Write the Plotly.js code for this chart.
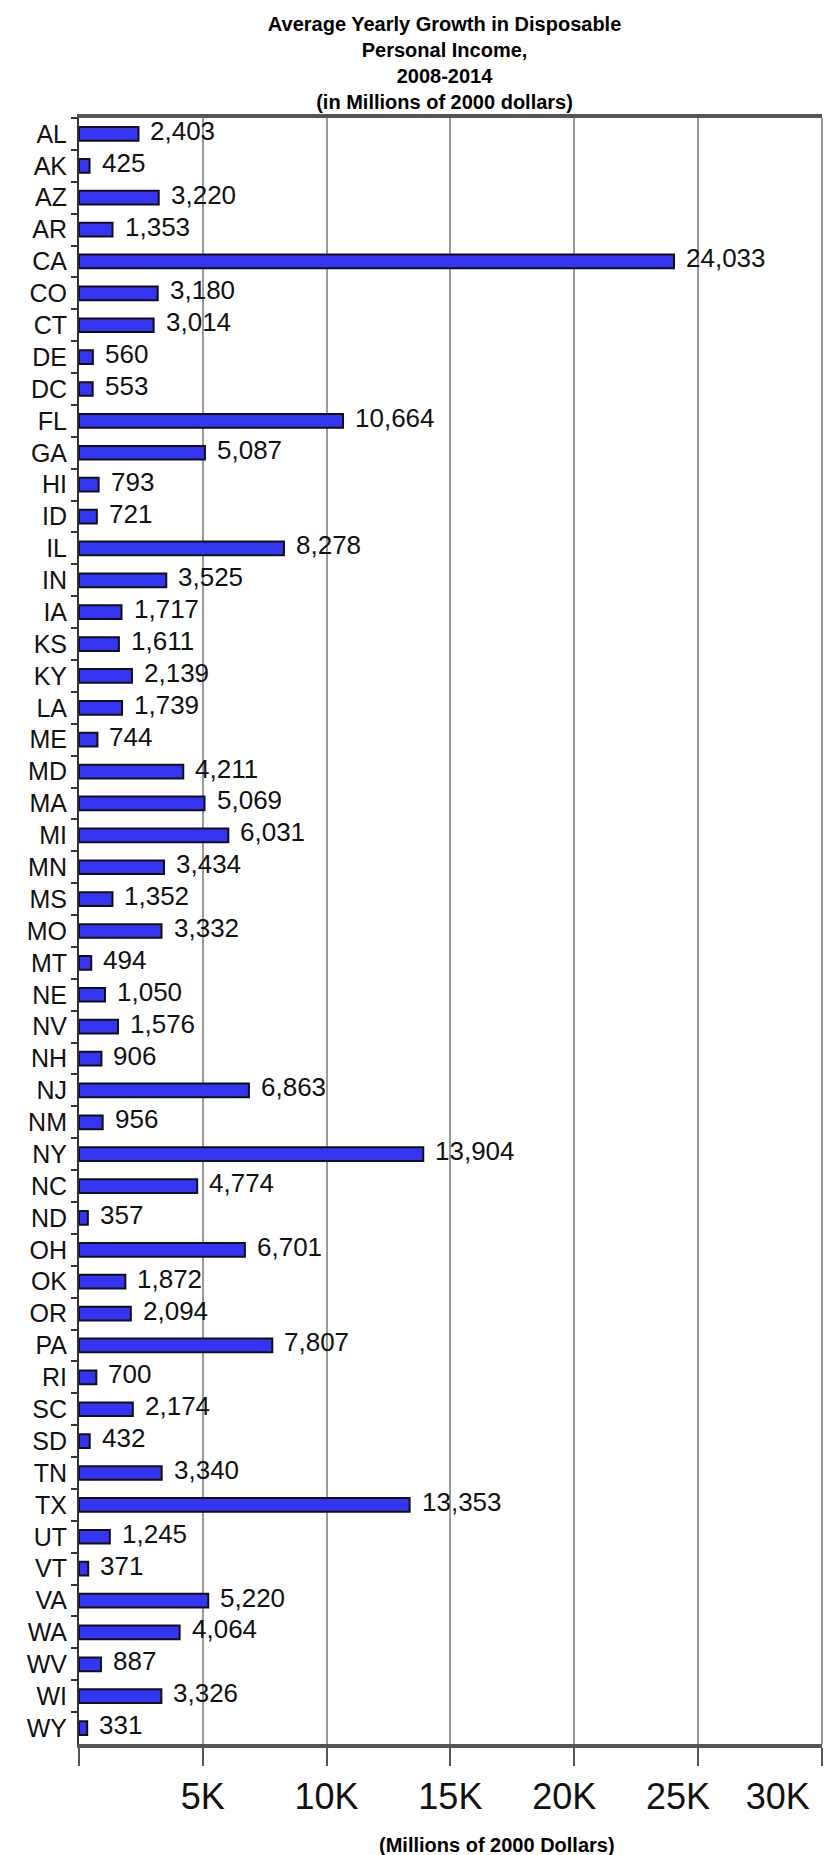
<!DOCTYPE html>
<html>
<head>
<meta charset="utf-8">
<script src="https://cdn.plot.ly/plotly-3.0.1.min.js"></script>
<style>
  html, body { margin: 0; padding: 0; background: #fff; }
  #chart { width: 836px; height: 1855px; }
</style>
</head>
<body>
<div id="chart"></div>
<script>
const states = ['AL','AK','AZ','AR','CA','CO','CT','DE','DC','FL','GA','HI','ID','IL','IN','IA','KS','KY','LA','ME','MD','MA','MI','MN','MS','MO','MT','NE','NV','NH','NJ','NM','NY','NC','ND','OH','OK','OR','PA','RI','SC','SD','TN','TX','UT','VT','VA','WA','WV','WI','WY'];
const growth = [2403,425,3220,1353,24033,3180,3014,560,553,10664,5087,793,721,8278,3525,1717,1611,2139,1739,744,4211,5069,6031,3434,1352,3332,494,1050,1576,906,6863,956,13904,4774,357,6701,1872,2094,7807,700,2174,432,3340,13353,1245,371,5220,4064,887,3326,331];
const xTickValues = [0,5000,10000,15000,20000,25000,30000];
const xTickLabels = ['','5K','10K','15K','20K','25K','30K'];
const titleLines = ['Average Yearly Growth in Disposable','Personal Income,','2008-2014','(in Millions of 2000 dollars)'];
const xAxisTitle = '(Millions of 2000 Dollars)';

const FONT = 'Liberation Sans, Arial, Helvetica, sans-serif';
const fmt = v => String(v).replace(/\B(?=(\d{3})+(?!\d))/g, ',');
const X_RANGE = [0, 30010];
const Y_RANGE = [states.length - 0.5, -0.5];   // reversed: first state on top

// the right-hand labels sit a little left of their ticks in the reference;
// the last one is drawn by an overlaid axis so it can be shifted inside the page
const last = xTickLabels.length - 1;
const labelPad = [0, 0, 0, 0, 2, 4, 0];
const tickText = xTickLabels.map((t, i) => i === last ? '' : t + '\u00a0'.repeat(labelPad[i]));

const trace = {
  type: 'bar',
  orientation: 'h',
  y: states,
  x: growth,
  width: 0.43,
  marker: { color: '#3434F4', line: { color: '#111', width: 2 } },
  hoverinfo: 'x+y'
};

// invisible companion trace so the overlaid axis is drawn
const ghost = {
  type: 'scatter', mode: 'none', x: growth, y: states,
  xaxis: 'x2', yaxis: 'y', hoverinfo: 'skip', showlegend: false
};

const annotations = states.map((s, i) => ({
  x: growth[i], y: s, xref: 'x', yref: 'y',
  text: fmt(growth[i]),
  showarrow: false, xanchor: 'left', yanchor: 'middle',
  xshift: 10, yshift: 3,
  font: { family: FONT, size: 26, color: '#111' }
}));

annotations.push({
  x: 0.5626, y: -0.0621, xref: 'paper', yref: 'paper',
  text: '<b>' + xAxisTitle + '</b>', showarrow: false,
  xanchor: 'center', yanchor: 'middle',
  font: { family: FONT, size: 20, color: '#000' }
});

const tickFont = { family: FONT, size: 36, color: '#111' };

const layout = {
  width: 836, height: 1855,
  margin: { l: 79, r: 14, t: 118, b: 111 },
  paper_bgcolor: '#fff', plot_bgcolor: '#fff',
  showlegend: false,
  title: {
    text: titleLines.map(t => '<b>' + t + '</b>').join('<br>'),
    font: { family: FONT, size: 20, color: '#000' },
    x: 0.492, xref: 'paper', xanchor: 'center',
    y: 1 - 31 / 1855, yref: 'container', yanchor: 'top'
  },
  xaxis: {
    range: X_RANGE, autorange: false,
    tickvals: xTickValues, ticktext: tickText,
    tickangle: 0,
    tickfont: tickFont,
    ticks: 'outside', ticklen: 18, tickwidth: 2, tickcolor: '#555',
    showgrid: true, gridcolor: '#9a9a9a', gridwidth: 2,
    zeroline: false,
    showline: true, linecolor: '#555', linewidth: 4, mirror: true,
    fixedrange: true
  },
  xaxis2: {
    overlaying: 'x', anchor: 'y', side: 'bottom',
    range: X_RANGE, autorange: false,
    tickvals: [xTickValues[last]], ticktext: [xTickLabels[last]],
    tickangle: 0,
    tickfont: tickFont,
    ticks: 'outside', ticklen: 21, tickwidth: 2, tickcolor: 'rgba(0,0,0,0)',
    ticklabelshift: -44,
    ticklabeloverflow: 'allow',
    showgrid: false, zeroline: false, showline: false,
    fixedrange: true
  },
  yaxis: {
    type: 'category',
    range: Y_RANGE, autorange: false,
    tickfont: { family: FONT, size: 25, color: '#111' },
    ticks: 'outside', tickson: 'boundaries', ticklen: 6, tickwidth: 2, tickcolor: '#333',
    ticklabelstandoff: 5,
    showgrid: false, zeroline: false,
    showline: true, linecolor: '#333', linewidth: 2,
    fixedrange: true
  },
  shapes: [{
    type: 'line', xref: 'paper', yref: 'paper', x0: 1, x1: 1, y0: 0, y1: 1,
    line: { color: '#999', width: 2 }
  }],
  annotations: annotations
};

Plotly.newPlot('chart', [trace, ghost], layout, { displayModeBar: false, staticPlot: true });
</script>
</body>
</html>
